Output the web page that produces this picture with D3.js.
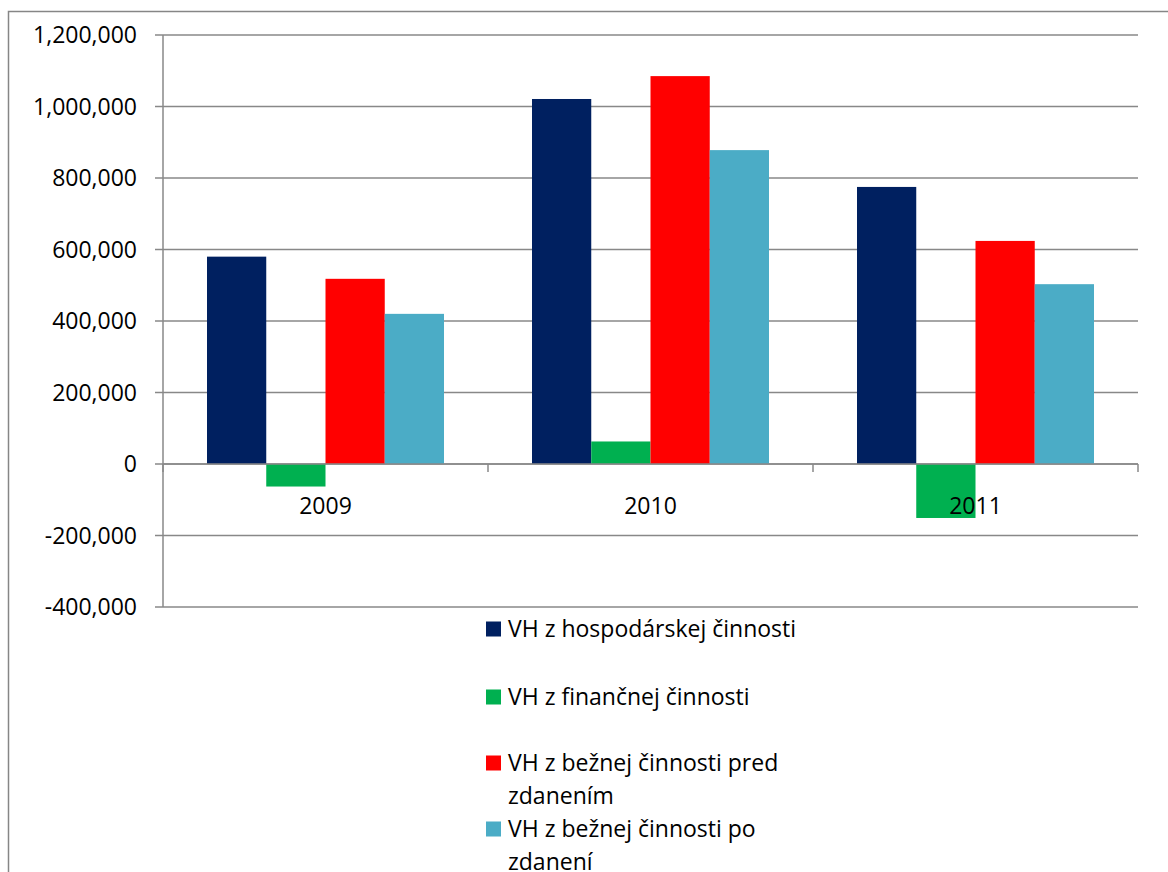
<html>
<head>
<script src="https://d3js.org/d3.v7.min.js"></script>
<style>
  body { margin: 0; background: #fff; }
  text { font-family: "Open Sans", sans-serif; fill: #000; }
</style>
</head>
<body>
<svg id="chart" width="1168" height="872"></svg>
<script>
  // data
  var years = ["2009", "2010", "2011"];
  var seriesNames = ["VH z hospodárskej činnosti", "VH z finančnej činnosti",
                     "VH z bežnej činnosti pred zdanením", "VH z bežnej činnosti po zdanení"];
  var hospodarska = [580000, 1021000, 775000];
  var financna    = [-63000, 63000, -151000];
  var predZdanenim = [518000, 1085000, 624000];
  var poZdaneni    = [420000, 878000, 503000];
  var yTicks = [-400000, -200000, 0, 200000, 400000, 600000, 800000, 1000000, 1200000];
  var colors = ["#002060", "#00b050", "#ff0000", "#4bacc6"];

  var allSeries = [hospodarska, financna, predZdanenim, poZdaneni];
  var rows = [];
  years.forEach(function(yr, i) {
    allSeries.forEach(function(s, j) {
      rows.push({ year: yr, series: j, value: s[i] });
    });
  });

  var svg = d3.select("#chart");
  var plotLeft = 163, plotRight = 1138, plotTop = 35, plotBottom = 607;
  var fontSize = "23px";

  // outer chart frame
  svg.append("rect")
    .attr("x", 8.5).attr("y", 11.5)
    .attr("width", 1200).attr("height", 900)
    .attr("fill", "none").attr("stroke", "#868686").attr("stroke-width", 1.5);

  var y = d3.scaleLinear().domain([-400000, 1200000]).range([plotBottom, plotTop]);
  var x0 = d3.scaleBand().domain(years).range([plotLeft, plotRight]);
  var x1 = d3.scaleBand().domain(d3.range(4)).range([44, x0.bandwidth() - 44]);

  // gridlines
  svg.append("g").selectAll("line")
    .data(yTicks)
    .join("line")
      .attr("x1", plotLeft - 8).attr("x2", plotRight)
      .attr("y1", function(d) { return y(d); })
      .attr("y2", function(d) { return y(d); })
      .attr("stroke", "#888").attr("stroke-width", 1.5);

  // y axis line
  svg.append("line")
    .attr("x1", plotLeft).attr("x2", plotLeft).attr("y1", plotTop).attr("y2", plotBottom)
    .attr("stroke", "#888").attr("stroke-width", 1.5);

  // y tick labels (plain hyphen for negatives, like the original)
  var fmt = d3.formatLocale({ decimal: ".", thousands: ",", grouping: [3], currency: ["", ""], minus: "-" }).format(",");
  svg.append("g").selectAll("text")
    .data(yTicks)
    .join("text")
      .attr("x", 137)
      .attr("y", function(d) { return y(d); })
      .attr("dy", "0.35em")
      .attr("text-anchor", "end")
      .style("font-size", fontSize)
      .text(function(d) { return fmt(d); });

  // bars
  svg.append("g").selectAll("rect")
    .data(rows)
    .join("rect")
      .attr("x", function(d) { return x0(d.year) + x1(d.series); })
      .attr("width", x1.bandwidth())
      .attr("y", function(d) { return y(Math.max(0, d.value)); })
      .attr("height", function(d) { return Math.abs(y(d.value) - y(0)); })
      .attr("fill", function(d) { return colors[d.series]; });

  // category axis on zero line
  svg.append("line")
    .attr("x1", plotLeft).attr("x2", plotRight).attr("y1", y(0)).attr("y2", y(0))
    .attr("stroke", "#888").attr("stroke-width", 1.5);
  var catEdges = years.map(function(d) { return x0(d); }).concat([plotRight]);
  svg.append("g").selectAll("line")
    .data(catEdges)
    .join("line")
      .attr("x1", function(d) { return d; }).attr("x2", function(d) { return d; })
      .attr("y1", y(0)).attr("y2", y(0) + 8)
      .attr("stroke", "#888").attr("stroke-width", 1.5);

  svg.append("g").selectAll("text")
    .data(years)
    .join("text")
      .attr("x", function(d) { return x0(d) + x0.bandwidth() / 2; })
      .attr("y", 506)
      .attr("dy", "0.35em")
      .attr("text-anchor", "middle")
      .style("font-size", fontSize)
      .text(function(d) { return d; });

  // legend
  var legendLines = [
    ["VH z hospodárskej činnosti"],
    ["VH z finančnej činnosti"],
    ["VH z bežnej činnosti pred", "zdanením"],
    ["VH z bežnej činnosti po", "zdanení"]
  ];
  var legendY = [629, 697, 763, 829];
  var lg = svg.append("g").selectAll("g")
    .data(legendLines)
    .join("g")
      .attr("transform", function(d, i) { return "translate(486," + legendY[i] + ")"; });
  lg.append("rect")
    .attr("x", 0).attr("y", -7.5).attr("width", 15).attr("height", 15)
    .attr("fill", function(d, i) { return colors[i]; });
  lg.each(function(d) {
    var t = d3.select(this).append("text")
      .style("font-size", fontSize);
    d.forEach(function(line, k) {
      t.append("tspan")
        .attr("x", 22)
        .attr("y", k * 33)
        .attr("dy", "0.35em")
        .text(line);
    });
  });
</script>
</body>
</html>
